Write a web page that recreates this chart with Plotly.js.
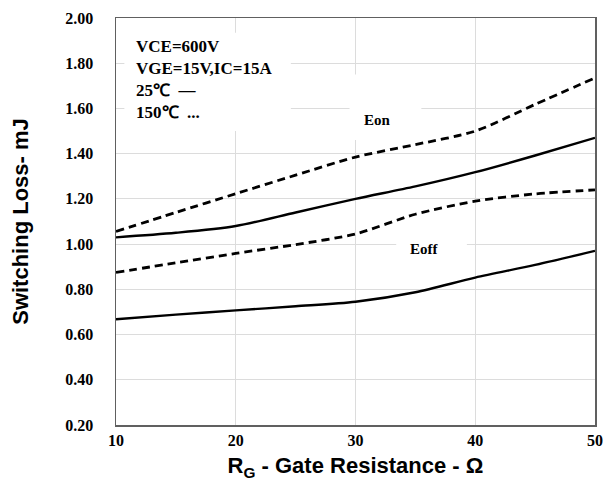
<!DOCTYPE html>
<html>
<head>
<meta charset="utf-8">
<script src="https://cdn.plot.ly/plotly-3.0.1.min.js"></script>
<style>html,body{margin:0;padding:0;background:#fff;}#chart{width:611px;height:489px;}</style>
</head>
<body>
<div id="chart"></div>
<script>
// Gate resistance (Ohm)
var rg = [10, 15, 20, 25, 30, 35, 40, 45, 50];
// Switching losses (mJ)
var eon25  = [1.03, 1.05, 1.08, 1.14, 1.20, 1.255, 1.318, 1.392, 1.47];
var eon150 = [1.056, 1.14, 1.223, 1.305, 1.385, 1.44, 1.5, 1.618, 1.735];
var eoff25  = [0.668, 0.688, 0.707, 0.725, 0.745, 0.787, 0.852, 0.908, 0.97];
var eoff150 = [0.875, 0.917, 0.959, 0.998, 1.045, 1.132, 1.19, 1.222, 1.24];
var yTicks = [0.20, 0.40, 0.60, 0.80, 1.00, 1.20, 1.40, 1.60, 1.80, 2.00];
var xTicks = [10, 20, 30, 40, 50];

var solid = {color: '#000', width: 2.4, shape: 'spline', smoothing: 0.8};
var dashed = {color: '#000', width: 2.8, shape: 'spline', smoothing: 0.8, dash: '8px,5px'};

var traces = [
  {x: rg, y: eon25, mode: 'lines', line: solid, name: 'Eon 25'},
  {x: rg, y: eon150, mode: 'lines', line: dashed, name: 'Eon 150'},
  {x: rg, y: eoff25, mode: 'lines', line: solid, name: 'Eoff 25'},
  {x: rg, y: eoff150, mode: 'lines', line: dashed, name: 'Eoff 150'}
];

var serifFam = 'Liberation Serif, Times New Roman, serif';
var tickFont = {family: serifFam, size: 16, color: '#000', weight: 'bold'};
var sansBold = {family: 'Liberation Sans, Arial, sans-serif', size: 22, color: '#000', weight: 'bold'};

var layout = {
  width: 611, height: 489,
  margin: {l: 116, r: 16, t: 18, b: 64},
  paper_bgcolor: '#fff', plot_bgcolor: '#fff',
  showlegend: false,
  xaxis: {
    range: [10, 50], tickvals: xTicks, ticktext: xTicks.map(String),
    showgrid: true, gridcolor: '#dcdcdc', gridwidth: 1.2, zeroline: false,
    showline: true, mirror: true, linecolor: '#606060', linewidth: 1.5,
    ticks: '', tickfont: tickFont, ticklabelstandoff: 0,
    title: {text: 'R<sub>G</sub> - Gate Resistance - Ω', font: sansBold, standoff: 10}
  },
  yaxis: {
    range: [0.2, 2.0], tickvals: yTicks, ticktext: yTicks.map(function(v){return v.toFixed(2);}),
    showgrid: true, gridcolor: '#dcdcdc', gridwidth: 1.2, zeroline: false,
    showline: true, mirror: true, linecolor: '#606060', linewidth: 1.5,
    ticks: '', tickfont: tickFont, ticklabelstandoff: 18,
    title: {text: 'Switching Loss- mJ', font: sansBold, standoff: 30}
  },
  shapes: [
    {type: 'rect', layer: 'between', xref: 'x', yref: 'y', x0: 10.7, x1: 24.6, y0: 1.50, y1: 1.935, fillcolor: '#fff', line: {width: 0}},
    {type: 'rect', layer: 'between', xref: 'x', yref: 'y', x0: 29.5, x1: 35.5, y0: 1.46, y1: 1.75, fillcolor: '#fff', line: {width: 0}},
    {type: 'rect', layer: 'between', xref: 'x', yref: 'y', x0: 33.4, x1: 39.3, y0: 0.92, y1: 1.07, fillcolor: '#fff', line: {width: 0}}
  ],
  annotations: [
    {xref: 'x', yref: 'y', x: 11.5, y: 1.73, xanchor: 'left', yanchor: 'middle', align: 'left', showarrow: false,
     text: 'VCE=600V<br>VGE=15V,IC=15A<br>25℃  <b>—</b><br>150℃  ...', font: {family: serifFam, size: 17, color: '#000', weight: 'bold'}},
    {xref: 'x', yref: 'y', x: 31.8, y: 1.55, showarrow: false, text: 'Eon', font: {family: serifFam, size: 15, color: '#000', weight: 'bold'}},
    {xref: 'x', yref: 'y', x: 35.8, y: 0.98, showarrow: false, text: 'Eoff', font: {family: serifFam, size: 15, color: '#000', weight: 'bold'}}
  ]
};

Plotly.newPlot('chart', traces, layout, {staticPlot: true, displayModeBar: false});
</script>
</body>
</html>
